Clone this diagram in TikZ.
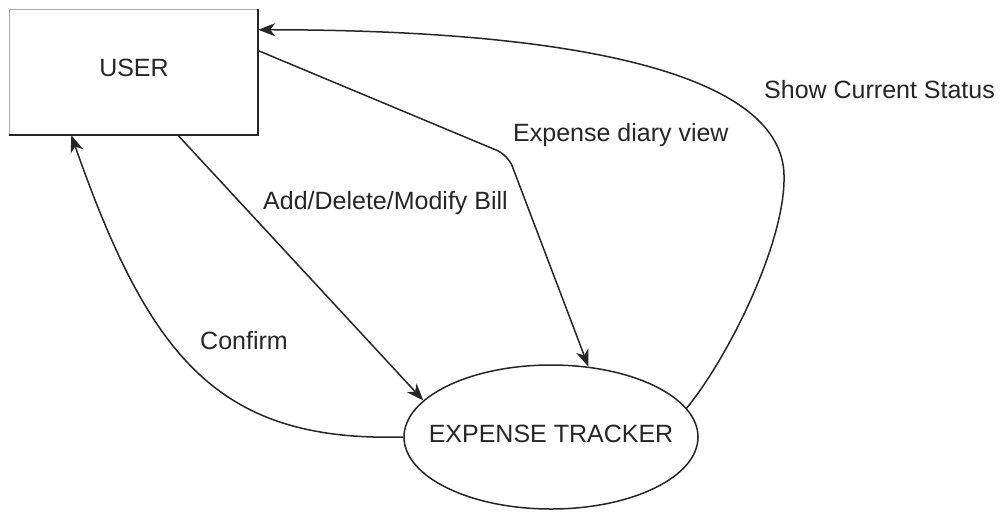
\documentclass[tikz,border=0pt]{standalone}
\usepackage{fontspec}
\setmainfont{Liberation Sans}
\usetikzlibrary{shapes.geometric,arrows.meta}
\begin{document}
\begin{tikzpicture}[x=1pt,y=-1pt,
  txt/.style={font=\fontsize{25}{30}\selectfont, text=black!85},
  conn/.style={line width=1.5pt, draw=black!85},
  arr/.style={-{Stealth[length=17pt,width=13pt,inset=5pt]}},
  lbl/.style={txt, anchor=base west, inner sep=0pt},
  thinedge/.style={line width=1pt, draw=black!35},
  thickedge/.style={line width=2.5pt, draw=black!85, line cap=rect},
]
\useasboundingbox (0,0) rectangle (1003,512);
% USER box
\node[txt, minimum width=248pt, minimum height=125pt, inner sep=0pt,
      text height=18pt, text depth=10pt] (user) at (134,72.5) {USER};
\draw[thinedge] (user.south west) -- (user.north west) -- (user.north east);
\draw[thickedge] (user.north east) -- (user.south east) -- (user.south west);
% EXPENSE TRACKER ellipse
\node[txt, ellipse, draw=black!85, line width=1.5pt, minimum width=294pt,
      minimum height=144pt, inner sep=0pt, text depth=7pt]
      (tracker) at (551,437) {\makebox[0pt]{EXPENSE TRACKER}};
% connectors
\draw[conn, arr, rounded corners=12pt] (user.10) -- (508,155) -- (tracker.62);
\draw[conn, arr] (user.-55.5) -- (tracker.164.8);
\draw[conn, arr] (tracker.west) .. controls (220,442) and (150,360) .. (user.-135);
\draw[conn, arr] (tracker.12) .. controls (730,355) and (786,240) .. (784,175)
      .. controls (782,80) and (600,30) .. (user.19);
% labels
\node[lbl] (lshow) at (764,98) {Show Current Status};
\node[lbl] (ldiary) at (513,141) {Expense diary view};
\node[lbl] (ladd) at (263,209) {Add/Delete/Modify Bill};
\node[lbl] (lconf) at (200,349) {Confirm};
\end{tikzpicture}
\end{document}
